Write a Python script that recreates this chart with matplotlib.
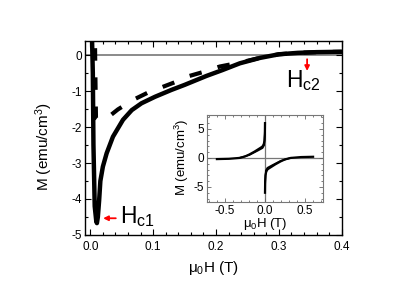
import matplotlib
matplotlib.use("Agg")
import matplotlib.pyplot as plt
from matplotlib.ticker import MultipleLocator

plt.rcParams['font.family'] = ['Liberation Sans', 'DejaVu Sans']
plt.rcParams['axes.unicode_minus'] = False
plt.rcParams['mathtext.fontset'] = 'custom'
plt.rcParams['mathtext.rm'] = 'Liberation Sans'
plt.rcParams['mathtext.it'] = 'Liberation Sans'
plt.rcParams['lines.scale_dashes'] = False

# ---- main data (field in T, magnetization in emu/cm^3) ----
solid_H = [0.002, 0.004, 0.005, 0.007, 0.0095, 0.0105, 0.012, 0.014, 0.016, 0.02,
           0.026, 0.036, 0.052, 0.066, 0.0815, 0.103, 0.129, 0.15, 0.185, 0.21,
           0.238, 0.27, 0.3, 0.33, 0.36, 0.4]
solid_M = [1.0, -0.5, -2.5, -4.2, -4.62, -4.67, -4.5, -4.05, -3.5, -3.1,
           -2.73, -2.27, -1.8, -1.53, -1.34, -1.16, -0.97, -0.83, -0.58, -0.42,
           -0.23, -0.08, 0.02, 0.06, 0.08, 0.09]

dash_H = [0.007, 0.008, 0.009, 0.013, 0.026, 0.044, 0.07, 0.091, 0.116, 0.137,
          0.158, 0.182, 0.206, 0.238, 0.27, 0.3, 0.33, 0.36, 0.4]
dash_M = [1.0, -0.5, -1.75, -1.8, -1.76, -1.51, -1.23, -1.05, -0.88, -0.74,
          -0.58, -0.46, -0.32, -0.21, -0.08, 0.02, 0.06, 0.08, 0.09]

# ---- inset data ----
in_neg_H = [-0.6, -0.45, -0.32, -0.25, -0.195, -0.13, -0.09, -0.05, -0.03, -0.015, -0.006, -0.002, 0.0]
in_neg_M = [-0.2, -0.15, 0.0, 0.25, 0.6, 1.1, 1.45, 1.8, 2.0, 2.4, 3.0, 4.0, 6.0]
in_pos_H = [0.0, 0.002, 0.006, 0.015, 0.03, 0.05, 0.09, 0.13, 0.195, 0.25, 0.32, 0.45, 0.6]
in_pos_M = [-6.0, -4.0, -3.0, -2.4, -2.0, -1.8, -1.45, -1.1, -0.6, -0.25, 0.0, 0.15, 0.2]
in_neg2_H = [-0.32, -0.195, -0.09, -0.03, -0.01, -0.002]
in_neg2_M = [0.0, 0.5, 1.25, 1.7, 2.2, 4.5]
in_pos2_H = [0.002, 0.01, 0.03, 0.09, 0.195, 0.32]
in_pos2_M = [-4.5, -2.2, -1.7, -1.25, -0.5, 0.0]

main_xticks = [0.0, 0.1, 0.2, 0.3, 0.4]
main_yticks = [0, -1, -2, -3, -4, -5]
inset_xticks = [-0.5, 0.0, 0.5]
inset_yticks = [-5, 0, 5]

fig = plt.figure(figsize=(4.15, 2.94), dpi=100)
ax = fig.add_axes([0.2055, 0.2007, 0.6178, 0.6599])

ax.axhline(0, color='#777777', lw=1.2, zorder=1)
ax.plot(dash_H, dash_M, color='black', lw=3.0, dashes=(9, 12), zorder=3)
ax.plot(solid_H, solid_M, color='black', lw=3.2, zorder=4)

ax.set_xlim(-0.008, 0.4)
ax.set_ylim(-5, 0.39)
ax.set_xticks(main_xticks)
ax.set_xticklabels(['%.1f' % v for v in main_xticks])
ax.set_yticks(main_yticks)
ax.set_yticklabels(['%d' % v for v in main_yticks])
ax.xaxis.set_minor_locator(MultipleLocator(0.02))
ax.yaxis.set_minor_locator(MultipleLocator(0.5))
ax.tick_params(which='both', direction='in', top=True, right=True, labelsize=8.5, width=0.8)
ax.tick_params(which='major', length=4)
ax.tick_params(which='minor', length=2)
ax.tick_params(axis='x', pad=4)
ax.tick_params(axis='y', pad=2.5)
for s in ax.spines.values():
    s.set_linewidth(1.0)

ax.set_xlabel(r'$\mu_0$H (T)', fontsize=11)
ax.set_ylabel(r'M (emu/cm$^3$)', fontsize=11)
ax.xaxis.set_label_coords(0.5, -0.125)
ax.yaxis.set_label_coords(-0.118, 0.455)

# annotations
ax.annotate('', xy=(0.016, -4.535), xytext=(0.045, -4.535),
            arrowprops=dict(arrowstyle='-|>', color='red', lw=1.3, mutation_scale=7))
ax.text(0.048, -4.675, r'H$_{\mathregular{c1}}$', fontsize=16.5, va='baseline', ha='left')
ax.annotate('', xy=(0.345, -0.52), xytext=(0.345, -0.04),
            arrowprops=dict(arrowstyle='-|>', color='red', lw=1.3, mutation_scale=7))
ax.text(0.3115, -0.88, r'H$_{\mathregular{c2}}$', fontsize=16.5, va='baseline', ha='left')

# inset
ins = fig.add_axes([0.4995, 0.3129, 0.2781, 0.2959])
ins.axhline(0, color='#777777', lw=0.9, zorder=1)
ins.axvline(0, color='#777777', lw=0.9, zorder=1)
ins.plot(in_neg_H, in_neg_M, color='black', lw=1.6, zorder=3)
ins.plot(in_pos_H, in_pos_M, color='black', lw=1.6, zorder=3)
ins.plot(in_neg2_H, in_neg2_M, color='black', lw=1.2, zorder=3)
ins.plot(in_pos2_H, in_pos2_M, color='black', lw=1.2, zorder=3)
ins.set_xlim(-0.72, 0.72)
ins.set_ylim(-7.6, 7.4)
ins.set_xticks(inset_xticks)
ins.set_xticklabels(['%.1f' % v for v in inset_xticks])
ins.set_yticks(inset_yticks)
ins.set_yticklabels(['%d' % v for v in inset_yticks])
ins.xaxis.set_minor_locator(MultipleLocator(0.1))
ins.yaxis.set_minor_locator(MultipleLocator(1))
ins.tick_params(which='both', direction='in', top=True, right=True, labelsize=8.5,
                width=0.6, color='#666666')
ins.tick_params(which='major', length=3)
ins.tick_params(which='minor', length=1.5)
ins.tick_params(axis='y', pad=2.5)
ins.tick_params(axis='x', pad=2.5)
for s in ins.spines.values():
    s.set_linewidth(0.8)
    s.set_color('#777777')
ins.set_xlabel(r'$\mu_0$H (T)', fontsize=9.5)
ins.set_ylabel(r'M (emu/cm$^3$)', fontsize=9.5)
ins.xaxis.set_label_coords(0.5, -0.165)
ins.yaxis.set_label_coords(-0.14, 0.52)

fig.savefig('out.png', dpi=100)
